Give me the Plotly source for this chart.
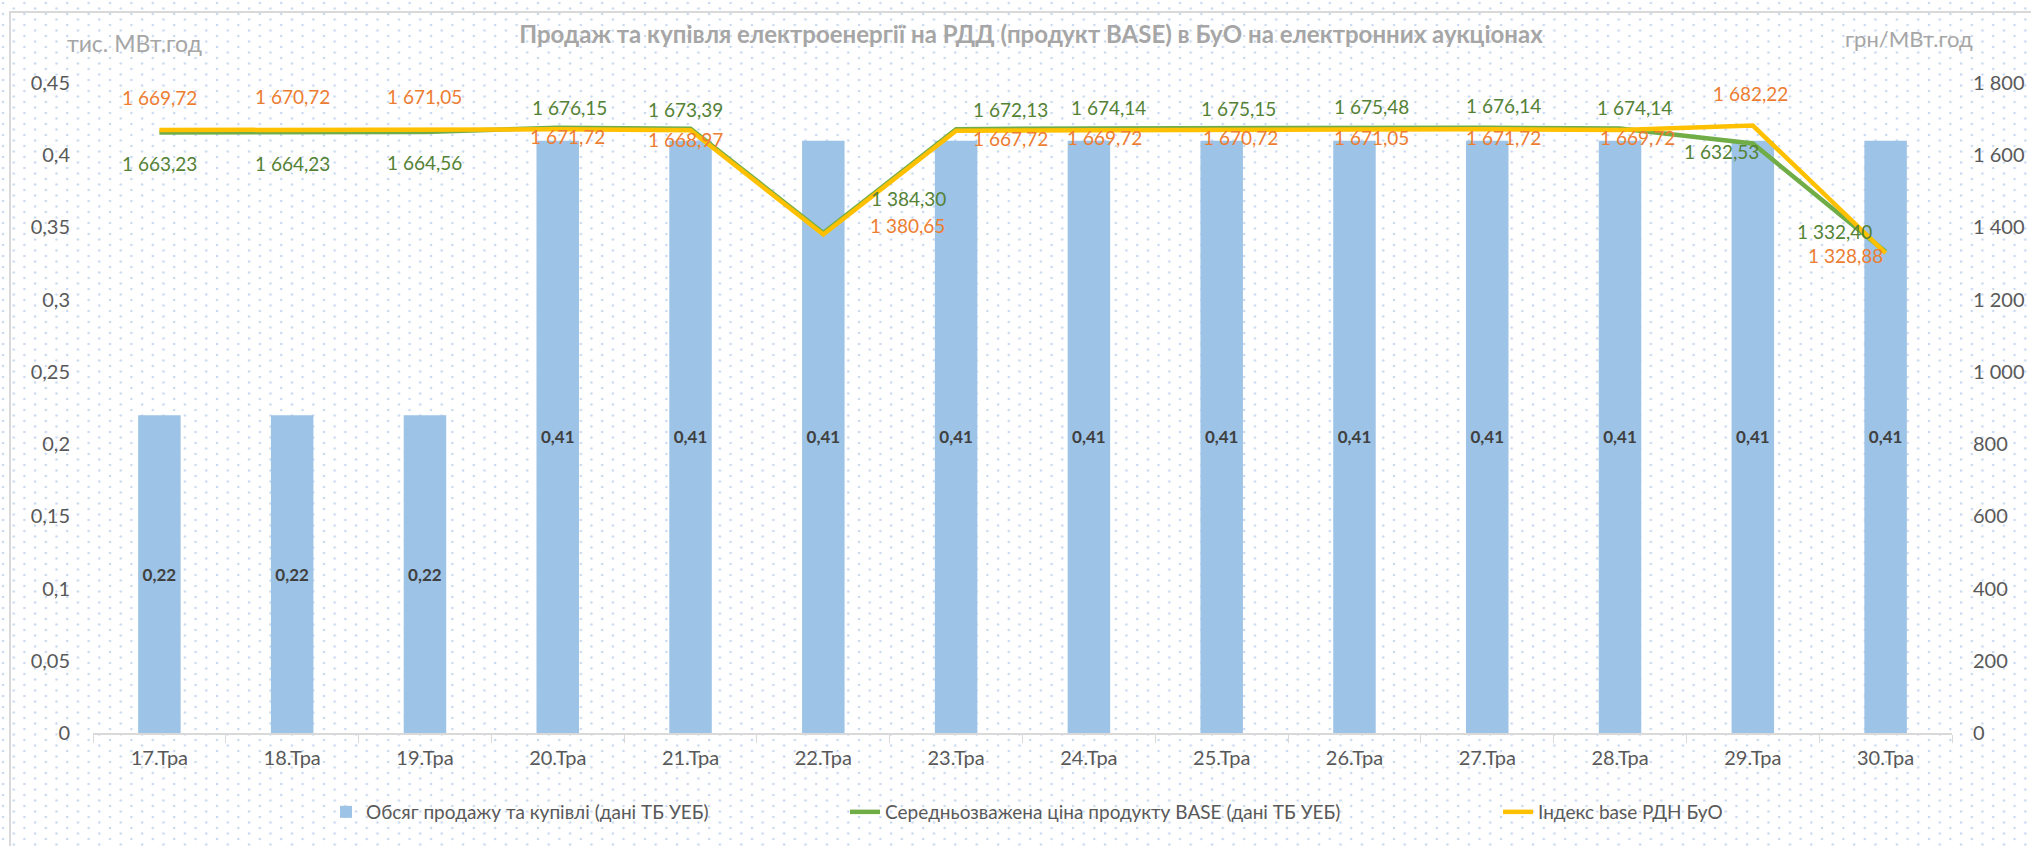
import base64
import plotly.graph_objects as go

# ---------------- data ----------------
categories = ["17.Тра", "18.Тра", "19.Тра", "20.Тра", "21.Тра", "22.Тра", "23.Тра",
              "24.Тра", "25.Тра", "26.Тра", "27.Тра", "28.Тра", "29.Тра", "30.Тра"]
volume = [0.22, 0.22, 0.22, 0.41, 0.41, 0.41, 0.41, 0.41, 0.41, 0.41, 0.41, 0.41, 0.41, 0.41]
avg_price = [1663.23, 1664.23, 1664.56, 1676.15, 1673.39, 1384.30, 1672.13,
             1674.14, 1675.15, 1675.48, 1676.14, 1674.14, 1632.53, 1332.40]
index_base = [1669.72, 1670.72, 1671.05, 1671.72, 1668.97, 1380.65, 1667.72,
              1669.72, 1670.72, 1671.05, 1671.72, 1669.72, 1682.22, 1328.88]

name_vol = "Обсяг продажу та купівлі (дані ТБ УЕБ)"
name_avg = "Середньозважена ціна продукту BASE (дані ТБ УЕБ)"
name_idx = "Індекс base РДН БуО"
title_text = "Продаж та купівля електроенергії на РДД (продукт BASE) в БуО на електронних аукціонах"
left_unit = "тис. МВт.год"
right_unit = "грн/МВт.год"

# label offsets (pixels) - style only
avg_shift = [(0, -31), (0, -31), (0, -31), (12, 20), (-5, 19), (85, 35), (54, 20),
             (20, 21), (17, 20), (17, 21), (16, 22), (14, 21), (-31, -8), (-51, 20)]
idx_shift = [(0, 33), (0, 33), (0, 33), (10, -7), (-5, -9), (84, 9), (54, -8),
             (16, -7), (19, -8), (17, -8), (16, -8), (17, -7), (-2, 32), (-40, -2)]

# ---------------- layout geometry ----------------
W, H = 2031, 846
L, R, T, B = 93, 79, 83, 113
PW, PH = W - L - R, H - T - B

FONT = "Lato, 'Open Sans', sans-serif"
GREEN_LINE = "#70AD47"
YELLOW_LINE = "#FFC000"
GREEN_TXT = "#548235"
ORANGE_TXT = "#ED7D31"
BAR = "#9DC3E6"
GREY = "#595959"


def fmt(v):
    return f"{v:,.2f}".replace(",", " ").replace(".", ",")


def px_x(p):
    return (p - L) / PW


def px_y(p):
    return (H - B - p) / PH


fig = go.Figure()
fig.add_trace(go.Bar(
    x=categories, y=volume, name=name_vol, marker=dict(color=BAR, line=dict(width=0)),
    width=0.32, texttemplate="%{y:.2f}", textposition="inside", insidetextanchor="middle",
    textfont=dict(family=FONT, size=17, color="#404040", weight="bold"), textangle=0,
    legend="legend", yaxis="y", showlegend=True,
))
fig.add_trace(go.Scatter(
    x=categories, y=avg_price, name=name_avg, mode="lines",
    line=dict(color=GREEN_LINE, width=4.5), yaxis="y2", legend="legend2", showlegend=True,
))
fig.add_trace(go.Scatter(
    x=categories, y=index_base, name=name_idx, mode="lines",
    line=dict(color=YELLOW_LINE, width=4.5), yaxis="y2", legend="legend3", showlegend=True,
))

annotations = []
for c, v, (dx, dy) in zip(categories, avg_price, avg_shift):
    annotations.append(dict(x=c, y=v, xref="x", yref="y2", text=fmt(v), showarrow=False,
                            xshift=dx, yshift=dy,
                            font=dict(family=FONT, size=19, color=GREEN_TXT)))
for c, v, (dx, dy) in zip(categories, index_base, idx_shift):
    annotations.append(dict(x=c, y=v, xref="x", yref="y2", text=fmt(v), showarrow=False,
                            xshift=dx, yshift=dy,
                            font=dict(family=FONT, size=19, color=ORANGE_TXT)))
annotations.append(dict(x=px_x(134), y=px_y(43), xref="paper", yref="paper", text=left_unit,
                        showarrow=False, xanchor="center", yanchor="middle",
                        font=dict(family=FONT, size=23, color="#A6A6A6")))
annotations.append(dict(x=px_x(1909), y=px_y(38), xref="paper", yref="paper", text=right_unit,
                        showarrow=False, xanchor="center", yanchor="middle",
                        font=dict(family=FONT, size=22, color="#A6A6A6")))

# dotted background pattern
svg = (f"<svg xmlns='http://www.w3.org/2000/svg' width='{W}' height='{H}' viewBox='0 0 {W} {H}'>"
       "<defs><pattern id='p' width='21.4' height='11' patternUnits='userSpaceOnUse'>"
       "<circle cx='3' cy='3' r='1.3' fill='#cad9f0'/>"
       "<circle cx='13.7' cy='8.5' r='1.3' fill='#cad9f0'/></pattern></defs>"
       f"<rect width='{W}' height='{H}' fill='url(#p)'/></svg>")
src = "data:image/svg+xml;base64," + base64.b64encode(svg.encode()).decode()

legend_common = dict(orientation="h", yanchor="middle", y=px_y(812), xanchor="left",
                     bgcolor="rgba(0,0,0,0)", font=dict(family=FONT, size=19, color=GREY))

fig.update_layout(
    width=W, height=H,
    margin=dict(l=L, r=R, t=T, b=B, autoexpand=False),
    paper_bgcolor="white", plot_bgcolor="rgba(0,0,0,0)",
    separators=", ",
    showlegend=True,
    font=dict(family=FONT, color=GREY),
    title=dict(text=title_text, x=1031 / W, xref="container", xanchor="center",
               y=1 - 35 / H, yref="container", yanchor="middle",
               font=dict(family=FONT, size=24, color="#A6A6A6", weight="bold")),
    bargap=0.68,
    xaxis=dict(type="category", categoryorder="array", categoryarray=categories,
               showline=True, linecolor="#D9D9D9", linewidth=1.5,
               ticks="outside", tickson="boundaries", ticklen=8, tickcolor="#D9D9D9",
               tickfont=dict(family=FONT, size=20, color=GREY), ticklabelstandoff=6,
               showgrid=False, zeroline=False),
    yaxis=dict(range=[0, 0.45], dtick=0.05, showgrid=False, zeroline=False, showline=False,
               tickfont=dict(family=FONT, size=20, color=GREY), ticklabelstandoff=22),
    yaxis2=dict(range=[0, 1800], dtick=200, overlaying="y", side="right", showgrid=False,
                zeroline=False, showline=False, separatethousands=True,
                tickfont=dict(family=FONT, size=20, color=GREY), ticklabelstandoff=20),
    legend=dict(x=px_x(368 - 42), **legend_common),
    legend2=dict(x=px_x(887 - 42), **legend_common),
    legend3=dict(x=px_x(1540 - 42), **legend_common),
    annotations=annotations,
    images=[dict(source=src, xref="paper", yref="paper", x=-L / PW, y=1 + T / PH,
                 sizex=W / PW, sizey=H / PH, sizing="stretch", layer="below",
                 xanchor="left", yanchor="top")],
    shapes=[dict(type="rect", xref="paper", yref="paper",
                 x0=px_x(10), y0=px_y(12), x1=px_x(2100), y1=px_y(900),
                 line=dict(color="#D9D9D9", width=2), fillcolor="rgba(0,0,0,0)", layer="below")],
)

fig.write_html("out.html", config={"displayModeBar": False},
               post_script="document.body.style.margin='0';document.body.style.overflow='hidden';")
